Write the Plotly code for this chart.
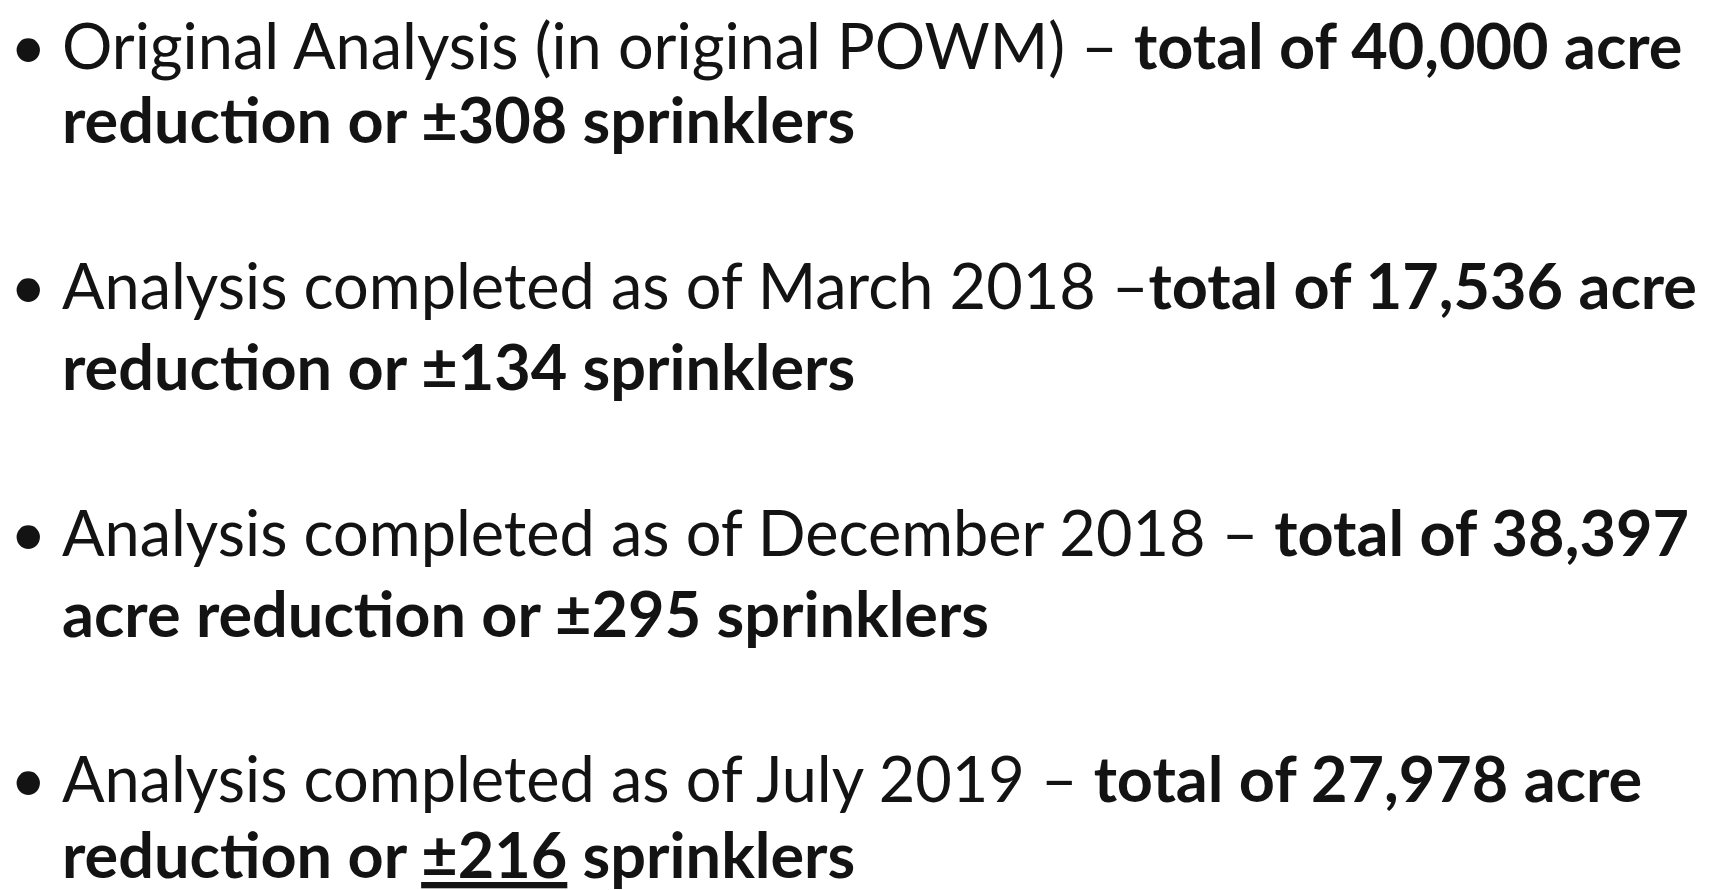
import plotly.graph_objects as go

W, H = 1723, 890

# Data
analysis_labels = [
    "Original Analysis (in original POWM)",
    "Analysis completed as of March 2018",
    "Analysis completed as of December 2018",
    "Analysis completed as of July 2019",
]
acre_totals = ["40,000", "17,536", "38,397", "27,978"]
sprinkler_counts = ["308", "134", "295", "216"]

# presentation: how each bullet wraps
dash_sep = [" – ", " –", " – ", " – "]
acre_on_first_line = [True, True, False, True]
underline_count = [False, False, False, True]

# baselines (px from top) of the two lines of each bullet
first_baselines = [66, 306, 553, 799]
second_baselines = [140, 387, 634, 875]

FONT = "Lato, 'Noto Sans', 'Open Sans', sans-serif"
SIZE = 63
COLOR = "#131313"
TEXT_X = 53
BULLET_X = 20
MID = 0.47  # box middle above baseline, in em

fig = go.Figure()
fig.add_trace(go.Scatter(x=[0, 1], y=[0, 1], mode="markers",
                         marker=dict(opacity=0), hoverinfo="skip", showlegend=False))

def py(v):
    return 1 - v / H

annotations = []
for i, label in enumerate(analysis_labels):
    count = sprinkler_counts[i]
    if underline_count[i]:
        count_txt = "<u>±" + count + "</u>"
    else:
        count_txt = "±" + count
    if acre_on_first_line[i]:
        line1 = label + dash_sep[i] + "<b>total of " + acre_totals[i] + " acre</b>"
        line2 = "<b>reduction or " + count_txt + " sprinklers</b>"
    else:
        line1 = label + dash_sep[i] + "<b>total of " + acre_totals[i] + "</b>"
        line2 = "<b>acre reduction or " + count_txt + " sprinklers</b>"
    for txt, base in ((line1, first_baselines[i]), (line2, second_baselines[i])):
        annotations.append(dict(
            text=txt, xref="paper", yref="paper",
            x=TEXT_X / W, y=py(base - MID * SIZE),
            xanchor="left", yanchor="middle", align="left",
            borderpad=0,
            showarrow=False, font=dict(family=FONT, size=SIZE, color=COLOR)))
    annotations.append(dict(
        text="•", xref="paper", yref="paper",
        x=BULLET_X / W, y=py(first_baselines[i] - MID * SIZE),
        xanchor="center", yanchor="middle", showarrow=False, borderpad=0,
        font=dict(family=FONT, size=SIZE, color=COLOR)))

fig.update_layout(
    width=W, height=H,
    margin=dict(l=0, r=0, t=0, b=0),
    paper_bgcolor="white", plot_bgcolor="white",
    xaxis=dict(visible=False, range=[0, 1], fixedrange=True),
    yaxis=dict(visible=False, range=[0, 1], fixedrange=True),
    annotations=annotations,
    showlegend=False,
)

fig.write_html("out.html")
